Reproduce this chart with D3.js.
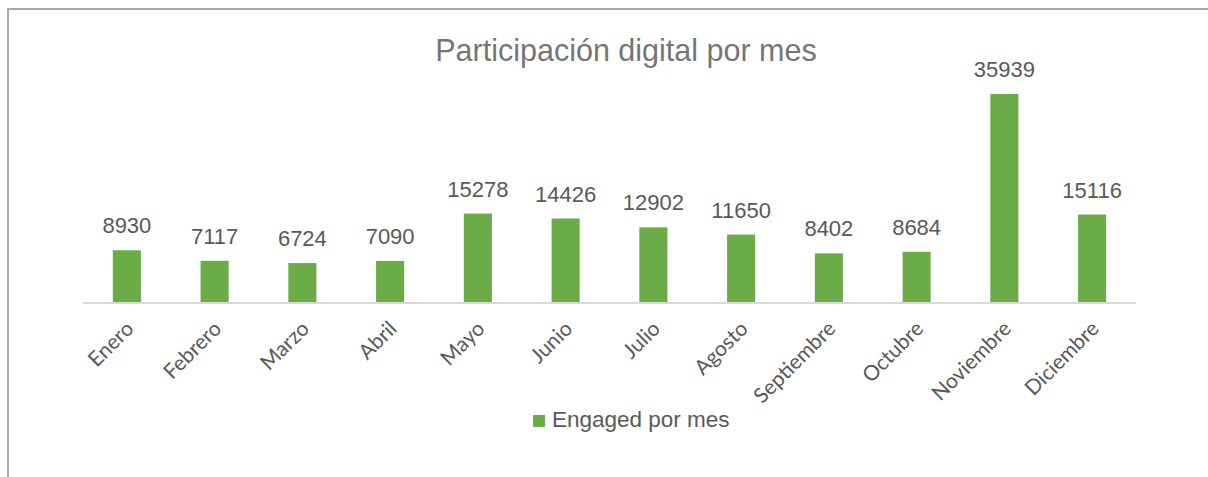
<!DOCTYPE html>
<html>
<head>
<meta charset="utf-8">
<script src="https://cdn.jsdelivr.net/npm/d3@7"></script>
<style>
  body { margin: 0; background: #fff; }
  svg { display: block; }
</style>
</head>
<body>
<div class="canvas"></div>
<script>
const months = ['Enero', 'Febrero', 'Marzo', 'Abril', 'Mayo', 'Junio', 'Julio',
    'Agosto', 'Septiembre', 'Octubre', 'Noviembre', 'Diciembre'];
const engaged = [8930, 7117, 6724, 7090, 15278, 14426, 12902, 11650, 8402, 8684, 35939, 15116];
const seriesName = 'Engaged por mes';
const chartTitle = 'Participación digital por mes';

const data = months.map((m, i) => ({ name: m, value: engaged[i] }));

const width = 1208, height = 477;
const svg = d3.select('.canvas')
    .append('svg')
    .attr('width', width)
    .attr('height', height);

// chart frame (only top and left edges visible in the crop)
svg.append('line')
    .attr('x1', 7).attr('x2', width).attr('y1', 9).attr('y2', 9)
    .attr('stroke', '#a8a8ab').attr('stroke-width', 2);
svg.append('line')
    .attr('x1', 8).attr('x2', 8).attr('y1', 8).attr('y2', height)
    .attr('stroke', '#a8a8ab').attr('stroke-width', 2);

const plot = { left: 83, right: 1136, top: 70.5, bottom: 302 };

const x = d3.scaleBand()
    .domain(months)
    .range([plot.left, plot.right])
    .paddingInner(0.68)
    .paddingOuter(0.34);

const y = d3.scaleLinear()
    .domain([0, 40000])
    .range([plot.bottom, plot.top]);

// title
svg.append('text')
    .attr('x', 626)
    .attr('y', 61)
    .attr('text-anchor', 'middle')
    .attr('font-family', 'Liberation Sans, Arial, sans-serif')
    .attr('font-size', 30.5)
    .attr('fill', '#757575')
    .text(chartTitle);

// bars
svg.append('g').selectAll('rect')
    .data(data)
    .enter()
    .append('rect')
    .attr('x', d => x(d.name))
    .attr('width', x.bandwidth())
    .attr('y', d => y(d.value))
    .attr('height', d => y(0) - y(d.value))
    .attr('fill', '#6aac46');

// value labels
svg.append('g').selectAll('text')
    .data(data)
    .enter()
    .append('text')
    .attr('x', d => x(d.name) + x.bandwidth() / 2)
    .attr('y', d => y(d.value) - 17)
    .attr('text-anchor', 'middle')
    .attr('font-family', 'Liberation Sans, Arial, sans-serif')
    .attr('font-size', 22)
    .attr('fill', '#595959')
    .text(d => d.value);

// x axis
const xAxisGroup = svg.append('g')
    .attr('transform', `translate(0, ${plot.bottom + 1})`)
    .call(d3.axisBottom(x).tickSize(0).tickPadding(0));
xAxisGroup.select('.domain')
    .attr('d', `M${plot.left},0H${plot.right}`)
    .attr('stroke', '#d9d9d9')
    .attr('stroke-width', 2);
xAxisGroup.selectAll('text')
    .attr('font-family', 'Lato, Carlito, sans-serif')
    .attr('font-size', 21)
    .attr('fill', '#595959')
    .attr('text-anchor', 'end')
    .attr('dy', null)
    .attr('y', 0)
    .attr('transform', 'translate(8, 27) rotate(-45)');

// legend
const legend = svg.append('g').attr('transform', 'translate(533, 415)');
legend.append('rect')
    .attr('width', 12).attr('height', 12)
    .attr('fill', '#6aac46');
legend.append('text')
    .attr('x', 19)
    .attr('y', 12)
    .attr('font-family', 'Liberation Sans, Arial, sans-serif')
    .attr('font-size', 22.5)
    .attr('fill', '#595959')
    .text(seriesName);
</script>
</body>
</html>
